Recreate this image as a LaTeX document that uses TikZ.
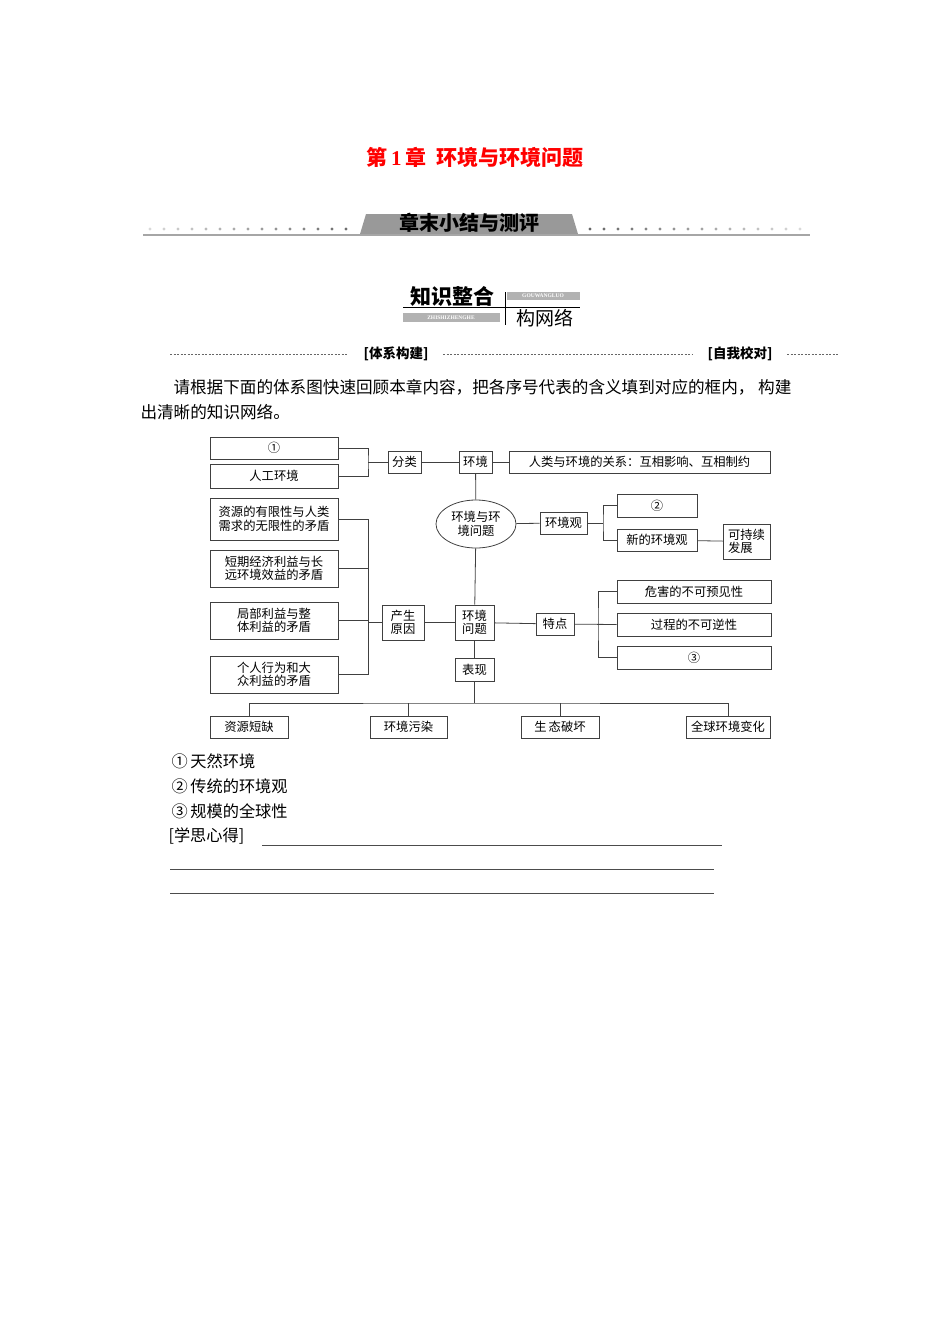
\documentclass[tikz,border=0pt]{standalone}
\usepackage{fontspec}
\setmainfont{Noto Sans CJK SC}
\newfontfamily\cjk{Noto Sans CJK SC}
\newfontfamily\lat{Liberation Serif}
\usetikzlibrary{shapes.geometric}
\begin{document}
\begin{tikzpicture}[x=1pt,y=-1pt,
 bx/.style={draw=black!75,line width=0.8pt,inner sep=0pt,font=\fontsize{12.3}{13.5}\selectfont,align=center},
 ln/.style={draw=black!75,line width=0.8pt},
 dsh/.style={draw=black!60,dashed,dash pattern=on 2pt off 1.5pt,line width=0.5pt}]
\useasboundingbox (0,0) rectangle (950,1344);
% header
\node[text=red,font=\fontsize{21}{23}\selectfont\bfseries] (title) at (475,157) {第\,{\lat 1}\,章\enspace 环境与环境问题};
\fill[black!40] (360,234) -- (366,214) -- (572,214) -- (578,234) -- cycle;
\draw[black!35,line width=1.5pt] (143,235) -- (810,235);
\foreach \i in {0,...,14} {\fill[black!\the\numexpr 15+3*\i\relax] (150+14*\i,229) circle (1.6);}
\foreach \i in {0,...,15} {\fill[black!\the\numexpr 60-3*\i\relax] (590+14*\i,229) circle (1.6);}
\node[font=\fontsize{20}{22}\selectfont\bfseries] (ban) at (469,223) {章末小结与测评};
\node[font=\fontsize{21}{23}\selectfont\bfseries,anchor=south] (zs) at (452,310) {知识整合};
\draw[black,line width=0.8pt] (403,307) -- (580,307);
\fill[black!30] (403,313) rectangle (500,322);
\node[white,font=\fontsize{5.5}{6}\selectfont\lat\bfseries] (zsp) at (451,317.5) {ZHISHIZHENGHE};
\draw[black,line width=0.8pt] (505,292) -- (505,325);
\fill[black!30] (507,292) rectangle (580,300);
\node[white,font=\fontsize{5.5}{6}\selectfont\lat\bfseries] (gwp) at (543,296) {GOUWANGLUO};
\node[font=\fontsize{19}{21}\selectfont] (gwl) at (545,318) {构网络};
\draw[dsh] (170,354) -- (348,354);
\node[font=\fontsize{13.5}{15}\selectfont\bfseries] (tx) at (396,354) {[体系构建]};
\draw[dsh] (443,354) -- (692,354);
\node[font=\fontsize{13.5}{15}\selectfont\bfseries] (zw) at (740,354) {[自我校对]};
\draw[dsh] (787,354) -- (838,354);
\node[anchor=west,font=\fontsize{16.6}{18}\selectfont] (p1) at (170,387) {请根据下面的体系图快速回顾本章内容，把各序号代表的含义填到对应的框内，\ 构建};
\node[anchor=west,font=\fontsize{16.6}{18}\selectfont] (p2) at (137,412) {出清晰的知识网络。};
% boxes
\node[bx,minimum width=128,minimum height=22] (n1) at (274,448) {①};
\node[bx,minimum width=128,minimum height=24] (rg) at (274,476) {人工环境};
\node[bx,minimum width=33,minimum height=22] (fl) at (404.5,462) {分类};
\node[bx,minimum width=33,minimum height=22] (hj) at (475.5,462) {环境};
\node[bx,minimum width=261,minimum height=22] (gx) at (639.5,462) {人类与环境的关系：互相影响、互相制约};
\node[draw=black!75,line width=0.8pt,ellipse,minimum width=80,minimum height=48,inner sep=0pt,align=center,font=\fontsize{12.3}{13.5}\selectfont] (cen) at (476,524) {环境与环\\境问题};
\node[bx,minimum width=47,minimum height=22] (hjg) at (563.5,523) {环境观};
\node[bx,minimum width=80,minimum height=23] (n2) at (657,505.5) {②};
\node[bx,minimum width=80,minimum height=22] (xhj) at (657,540) {新的环境观};
\node[bx,minimum width=47,minimum height=35,align=left] (kcx) at (746.5,541.5) {可持续\\发展};
\node[bx,minimum width=128,minimum height=42] (l1) at (274,519) {资源的有限性与人类\\需求的无限性的矛盾};
\node[bx,minimum width=128,minimum height=37] (l2) at (274,568.5) {短期经济利益与长\\远环境效益的矛盾};
\node[bx,minimum width=128,minimum height=37] (l3) at (274,620.5) {局部利益与整\\体利益的矛盾};
\node[bx,minimum width=128,minimum height=37] (l4) at (274,674.5) {个人行为和大\\众利益的矛盾};
\node[bx,minimum width=42,minimum height=35] (cs) at (403,622.5) {产生\\原因};
\node[bx,minimum width=39,minimum height=35] (wt) at (474.5,622.5) {环境\\问题};
\node[bx,minimum width=38,minimum height=22] (td) at (555,624) {特点};
\node[bx,minimum width=154,minimum height=23] (r1) at (694,591.5) {危害的不可预见性};
\node[bx,minimum width=154,minimum height=23] (r2) at (694,624.5) {过程的不可逆性};
\node[bx,minimum width=154,minimum height=23] (r3) at (694,657.5) {③};
\node[bx,minimum width=39,minimum height=23] (bx0) at (474.5,669.5) {表现};
\node[bx,minimum width=78,minimum height=22] (b1) at (249,727) {资源短缺};
\node[bx,minimum width=77,minimum height=22] (b2) at (408.5,727) {环境污染};
\node[bx,minimum width=78,minimum height=22] (b3) at (560,727) {生\,态破坏};
\node[bx,minimum width=84,minimum height=22] (b4) at (728,727) {全球环境变化};
% connectors
\coordinate (j1) at (368,462);
\draw[ln] (n1.east) -| (j1) |- (rg.east);
\draw[ln] (j1) -- (fl.west);
\draw[ln] (fl) -- (hj);
\draw[ln] (hj) -- (gx);
\draw[ln] (hj) -- (cen);
\draw[ln] (cen) -- (wt);
\draw[ln] (cen) -- (hjg);
\coordinate (j2) at (603,523);
\draw[ln] (hjg) -- (j2);
\draw[ln] (n2.west) -| (j2) |- (xhj.west);
\draw[ln] (xhj) -- (kcx);
\coordinate (j3) at (368,622.5);
\draw[ln] (l1.east) -| (j3);
\draw[ln] (l2.east) -- (l2.east -| j3);
\draw[ln] (l3.east) -- (l3.east -| j3);
\draw[ln] (l4.east) -| (j3);
\draw[ln] (j3) -- (cs.west);
\draw[ln] (cs) -- (wt);
\draw[ln] (wt) -- (td);
\coordinate (j4) at (598,624);
\draw[ln] (td) -- (r2.west);
\draw[ln] (r1.west) -| (j4) |- (r3.west);
\draw[ln] (wt) -- (bx0);
\coordinate (bus) at (474.5,703);
\draw[ln] (bx0) -- (bus);
\draw[ln] (b1.north) |- (bus) -| (b4.north);
\draw[ln] (b2.north) -- (b2.north |- bus);
\draw[ln] (b3.north) -- (b3.north |- bus);
% footer
\node[anchor=west,font=\fontsize{16.2}{18}\selectfont] (a1) at (168,761) {①\,天然环境};
\node[anchor=west,font=\fontsize{16.2}{18}\selectfont] (a2) at (168,786) {②\,传统的环境观};
\node[anchor=west,font=\fontsize{16.2}{18}\selectfont] (a3) at (168,811) {③\,规模的全球性};
\node[anchor=west,font=\fontsize{16.2}{18}\selectfont] (a4) at (165,836) {[学思心得]};
\draw[black!70,line width=0.5pt] (262,845) -- (722,845);
\draw[black!70,line width=0.5pt] (170,869) -- (714,869);
\draw[black!70,line width=0.5pt] (170,893) -- (714,893);
\end{tikzpicture}
\end{document}
